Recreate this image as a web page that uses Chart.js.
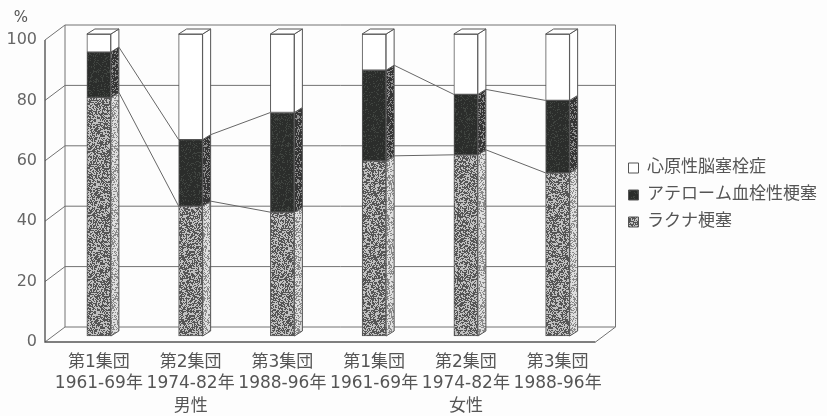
<!DOCTYPE html>
<html lang="ja">
<head>
<meta charset="utf-8">
<script src="https://cdn.jsdelivr.net/npm/chart.js@4.4.1/dist/chart.umd.min.js"></script>
<style>
  html, body { margin: 0; padding: 0; background: #fdfdfd; }
</style>
</head>
<body>
<canvas id="stroke-chart" width="827" height="416"></canvas>
<script>
// stroke subtype share (%) by cohort and sex
const sexes = ["男性", "女性"];
const cohorts = [["第1集団", "1961-69年"], ["第2集団", "1974-82年"], ["第3集団", "1988-96年"]];
const seriesNames = ["ラクナ梗塞", "アテローム血栓性梗塞", "心原性脳塞栓症"];
const lacunar = [79, 43, 41, 58, 60, 54];
const atherothrombotic = [15, 22, 33, 30, 20, 24];
const cardioembolic = [6, 35, 26, 12, 20, 22];
const yTicks = [0, 20, 40, 60, 80, 100];

const labels = sexes.flatMap(() => cohorts);
const FONT = "'DejaVu Sans', 'Noto Sans CJK JP', sans-serif";
const TEXT = "#555";
const LINE = "#727272";

// 3d offsets: back wall, bar plane, bar depth
const WALL_DX = 20, WALL_DY = -15;
const BAR_DX = 8, BAR_DY = -6;
const SIDE_DX = 8, SIDE_DY = -5;

// speckled fill made from a fixed hash so it looks the same every time
function speckle(base, dots, density, seed) {
  var c = document.createElement("canvas");
  c.width = 64;
  c.height = 64;
  var g = c.getContext("2d");
  g.fillStyle = base;
  g.fillRect(0, 0, 64, 64);
  g.fillStyle = dots;
  for (var yy = 0; yy < 64; yy++) {
    for (var xx = 0; xx < 64; xx++) {
      var n = Math.abs(Math.sin(xx * 12.9898 + yy * 78.233 + seed) * 43758.5453) % 1;
      if (n < density) g.fillRect(xx, yy, 1, 1);
    }
  }
  return g.createPattern(c, "repeat");
}

const lacunarFill = speckle("#c0c0c0", "#555555", 0.52, 1);
const lacunarSide = speckle("#dedede", "#8a8a8a", 0.4, 7);
const atheroFill = speckle("#2b2d2b", "#404440", 0.2, 3);
const atheroSide = speckle("#353535", "#8c8c8c", 0.3, 5);
const sideFills = [lacunarSide, atheroSide, "#ffffff"];

const depthPlugin = {
  id: "depth",
  beforeDatasetsDraw(chart) {
    const ctx = chart.ctx;
    const a = chart.chartArea;
    const y = chart.scales.y;
    const y0 = y.getPixelForValue(0);
    const y100 = y.getPixelForValue(100);

    ctx.save();
    ctx.strokeStyle = LINE;
    ctx.lineWidth = 1;
    ctx.beginPath();
    // side wall diagonals + back wall lines
    y.ticks.forEach((t) => {
      const py = y.getPixelForValue(t.value);
      ctx.moveTo(a.left, py);
      ctx.lineTo(a.left + WALL_DX, py + WALL_DY);
      ctx.lineTo(a.right + WALL_DX, py + WALL_DY);
    });
    ctx.moveTo(a.left + WALL_DX, y100 + WALL_DY);
    ctx.lineTo(a.left + WALL_DX, y0 + WALL_DY);
    ctx.moveTo(a.right + WALL_DX, y100 + WALL_DY);
    ctx.lineTo(a.right + WALL_DX, y0 + WALL_DY);
    // floor right edge
    ctx.moveTo(a.right, y0);
    ctx.lineTo(a.right + WALL_DX, y0 + WALL_DY);
    ctx.stroke();

    // front axis line and floor edge
    ctx.strokeStyle = "#555";
    ctx.lineWidth = 1.4;
    ctx.beginPath();
    ctx.moveTo(a.left, y100);
    ctx.lineTo(a.left, y0);
    ctx.lineTo(a.right, y0);
    ctx.stroke();
    ctx.restore();

    // bars stand in the middle of the floor
    ctx.save();
    ctx.translate(BAR_DX, BAR_DY);
  },
  afterDatasetsDraw(chart) {
    const ctx = chart.ctx;
    const metas = chart.data.datasets.map((d, i) => chart.getDatasetMeta(i));

    ctx.strokeStyle = "#555";
    ctx.lineWidth = 1;
    // side faces
    metas.forEach((meta, i) => {
      meta.data.forEach((el) => {
        const p = el.getProps(["x", "y", "base", "width"], true);
        const r = p.x + p.width / 2;
        ctx.beginPath();
        ctx.moveTo(r, p.y);
        ctx.lineTo(r + SIDE_DX, p.y + SIDE_DY);
        ctx.lineTo(r + SIDE_DX, p.base + SIDE_DY);
        ctx.lineTo(r, p.base);
        ctx.closePath();
        ctx.fillStyle = sideFills[i];
        ctx.fill();
        ctx.stroke();
      });
    });
    // top faces
    metas[metas.length - 1].data.forEach((el) => {
      const p = el.getProps(["x", "y", "width"], true);
      const l = p.x - p.width / 2, r = p.x + p.width / 2;
      ctx.beginPath();
      ctx.moveTo(l, p.y);
      ctx.lineTo(l + SIDE_DX, p.y + SIDE_DY);
      ctx.lineTo(r + SIDE_DX, p.y + SIDE_DY);
      ctx.lineTo(r, p.y);
      ctx.closePath();
      ctx.fillStyle = "#ffffff";
      ctx.fill();
      ctx.stroke();
    });
    // lines joining the same boundary across cohorts of one sex
    ctx.strokeStyle = "#666";
    ctx.lineWidth = 1;
    [0, 1].forEach((i) => {
      const els = metas[i].data;
      for (let j = 0; j < els.length - 1; j++) {
        if (Math.floor(j / cohorts.length) !== Math.floor((j + 1) / cohorts.length)) continue;
        const p = els[j].getProps(["x", "y", "width"], true);
        const q = els[j + 1].getProps(["x", "y", "width"], true);
        ctx.beginPath();
        ctx.moveTo(p.x + p.width / 2 + SIDE_DX, p.y + SIDE_DY);
        ctx.lineTo(q.x - q.width / 2, q.y);
        ctx.stroke();
      }
    });
    ctx.restore();
  },
  afterDraw(chart) {
    const ctx = chart.ctx;
    const x = chart.scales.x;
    ctx.save();
    ctx.fillStyle = TEXT;
    ctx.font = "17px " + FONT;
    ctx.textAlign = "center";
    ctx.textBaseline = "top";
    sexes.forEach((s, g) => {
      const mid = g * cohorts.length + Math.floor(cohorts.length / 2);
      ctx.fillText(s, x.getPixelForValue(mid) + BAR_DX, 398);
    });
    ctx.font = "15px " + FONT;
    ctx.fillText("%", 21, 11);
    ctx.restore();
  }
};

new Chart(document.getElementById("stroke-chart"), {
  type: "bar",
  data: {
    labels: labels,
    datasets: [
      { label: seriesNames[0], data: lacunar, backgroundColor: lacunarFill },
      { label: seriesNames[1], data: atherothrombotic, backgroundColor: atheroFill },
      { label: seriesNames[2], data: cardioembolic, backgroundColor: "#ffffff" }
    ]
  },
  options: {
    responsive: false,
    devicePixelRatio: 1,
    animation: false,
    layout: { padding: { top: 40, left: 0, bottom: 0, right: 0 } },
    datasets: {
      bar: {
        barThickness: 24,
        borderColor: "#555",
        borderWidth: 1,
        borderSkipped: false,
        clip: false
      }
    },
    scales: {
      x: {
        stacked: true,
        grid: { display: false, drawTicks: false },
        border: { display: false },
        ticks: {
          color: TEXT,
          font: { family: FONT, size: 17, lineHeight: 1.25 },
          padding: 10,
          labelOffset: BAR_DX,
          maxRotation: 0,
          autoSkip: false
        },
        afterFit(s) { s.height = 74; }
      },
      y: {
        stacked: true,
        min: 0,
        max: 100,
        afterBuildTicks(s) { s.ticks = yTicks.map((v) => ({ value: v })); },
        grid: { display: false, drawTicks: false },
        border: { display: false },
        ticks: { color: "#666", font: { family: FONT, size: 16 }, padding: 8 },
        afterFit(s) { s.width = 45; }
      },
      gap: {
        type: "linear",
        position: "right",
        display: true,
        grid: { display: false, drawTicks: false },
        border: { display: false },
        ticks: { display: false },
        afterFit(s) { s.width = 23; }
      }
    },
    plugins: {
      tooltip: { enabled: false },
      legend: {
        position: "right",
        fullSize: false,
        reverse: true,
        maxWidth: 400,
        // empty title only pushes the items a little lower
        title: { display: true, text: "", font: { size: 6, lineHeight: 1 }, padding: 1 },
        labels: {
          boxWidth: 10,
          boxHeight: 10,
          padding: 10,
          color: TEXT,
          font: { family: FONT, size: 17 }
        }
      }
    }
  },
  plugins: [depthPlugin]
});
</script>
</body>
</html>
